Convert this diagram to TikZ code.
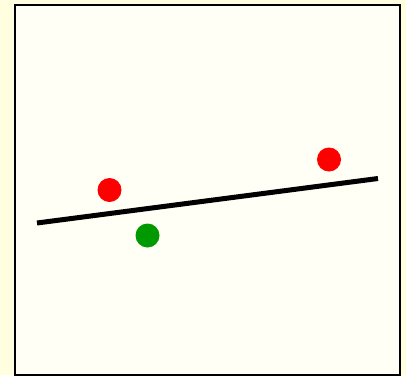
\documentclass[tikz,border=0pt]{standalone}
\usetikzlibrary{positioning,calc}
\definecolor{pgyellow}{HTML}{FFFFE0}
\definecolor{pgivory}{HTML}{FFFFF5}
\definecolor{ptred}{HTML}{FF0000}
\definecolor{ptgreen}{HTML}{009900}

\begin{document}
\begin{tikzpicture}[
  x=1pt, y=-1pt,
  frame/.style={draw=black, line width=2pt, fill=pgivory},
  fitline/.style={draw=black, line width=5pt},
  dot/.style={circle, inner sep=0pt, minimum size=24pt},
  reddot/.style={dot, fill=ptred},
  greendot/.style={dot, fill=ptgreen},
]

%% ---- Fondo y marco ----
\fill[pgyellow] (0,0) rectangle (406,375);
\useasboundingbox (0,0) rectangle (406,375);
\draw[frame] (15,5) rectangle (400,375.3);

%% ---- Recta ajustada ----
\coordinate (lstart) at (37,223);
\coordinate (lend)   at (378,178.5);
\draw[fitline] (lstart) -- (lend);

%% ---- Puntos ----
\node[reddot]   (p1) at (109.5,190) {};
\node[reddot]   (p2) at (329,159.5) {};
\node[greendot] (p3) at (147.5,235.5) {};

\end{tikzpicture}
\end{document}
